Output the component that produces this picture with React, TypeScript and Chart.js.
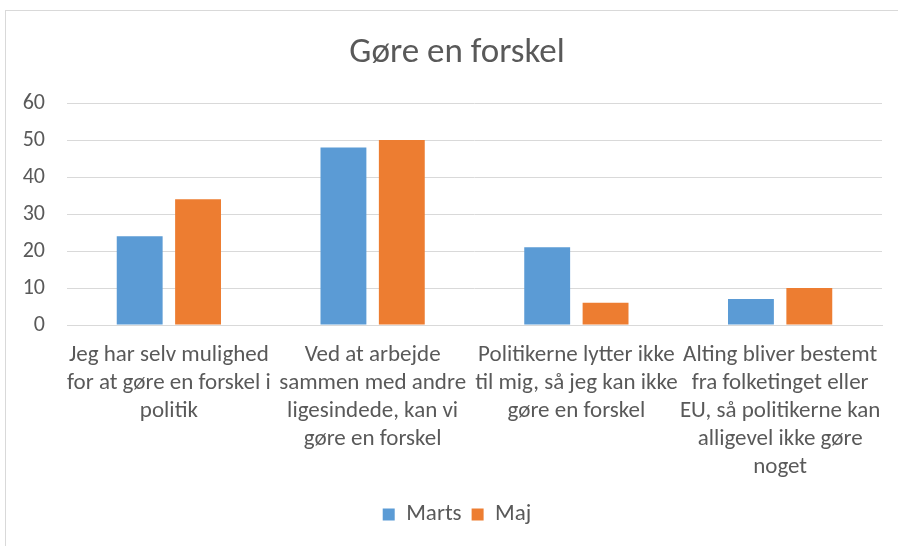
import React, { useEffect, useRef } from "react";
import { Chart, registerables } from "chart.js";

Chart.register(...registerables);

const title = "Gøre en forskel";
const categories: string[][] = [
  ["Jeg har selv mulighed", "for at gøre en forskel i", "politik"],
  ["Ved at arbejde", "sammen med andre", "ligesindede, kan vi", "gøre en forskel"],
  ["Politikerne lytter ikke", "til mig, så jeg kan ikke", "gøre en forskel"],
  ["Alting bliver bestemt", "fra folketinget eller", "EU, så politikerne kan", "alligevel ikke gøre", "noget"],
];
const seriesNames = ["Marts", "Maj"];
const marts = [24, 48, 21, 7];
const maj = [34, 50, 6, 10];
const yMin = 0;
const yMax = 60;
const yStep = 10;

const FONT = "Carlito, Lato, sans-serif";
const TEXT = "#595959";
const GRID = "#d9d9d9";

export default function App() {
  const ref = useRef<HTMLCanvasElement | null>(null);
  useEffect(() => {
    if (!ref.current) return;
    const chart = new Chart(ref.current, {
      type: "bar",
      data: {
        labels: categories,
        datasets: [
          { label: seriesNames[0], data: marts, backgroundColor: "#5B9BD5", categoryPercentage: 0.573, barPercentage: 0.786 },
          { label: seriesNames[1], data: maj, backgroundColor: "#ED7D31", categoryPercentage: 0.573, barPercentage: 0.786 },
        ],
      },
      options: {
        animation: false,
        responsive: false,
        layout: { padding: { left: 0, right: 0, top: 0, bottom: 10 } },
        plugins: {
          title: {
            display: true,
            text: title,
            color: TEXT,
            font: { family: FONT, size: 35, weight: "normal", lineHeight: 1.2 },
            padding: { top: 32, bottom: 29 },
          },
          legend: {
            position: "bottom",
            labels: {
              color: TEXT,
              font: { family: FONT, size: 23 },
              boxWidth: 12,
              boxHeight: 12,
              padding: 10,
            },
          },
          tooltip: { enabled: false },
        },
        scales: {
          x: {
            grid: { display: false, drawTicks: false },
            border: { color: GRID, width: 1 },
            ticks: {
              color: TEXT,
              font: { family: FONT, size: 23, lineHeight: 1.22 },
              maxRotation: 0,
              minRotation: 0,
              autoSkip: false,
              padding: 16,
            },
            afterFit: (s: any) => {
              s.height = 168;
            },
          },
          y: {
            min: yMin,
            max: yMax,
            grid: { color: GRID, drawTicks: false },
            border: { display: false },
            ticks: {
              stepSize: yStep,
              color: TEXT,
              font: { family: FONT, size: 22 },
              padding: 22,
            },
            afterFit: (s: any) => {
              s.width = 67;
            },
          },
          yRight: {
            position: "right",
            min: yMin,
            max: yMax,
            grid: { display: false, drawTicks: false },
            border: { display: false },
            ticks: { display: false },
            afterFit: (s: any) => {
              s.width = 32;
            },
          },
        },
      },
    });
    return () => chart.destroy();
  }, []);
  return (
    <div style={{ position: "fixed", left: 0, top: 0, width: 898, height: 546, background: "#fff", overflow: "hidden" }}>
      <div style={{ position: "absolute", left: 5, top: 10, width: 920, height: 600, border: "1px solid #d9d9d9" }} />
      <canvas ref={ref} width={914} height={546} style={{ position: "absolute", left: 0, top: 0, width: 914, height: 546 }} />
    </div>
  );
}
